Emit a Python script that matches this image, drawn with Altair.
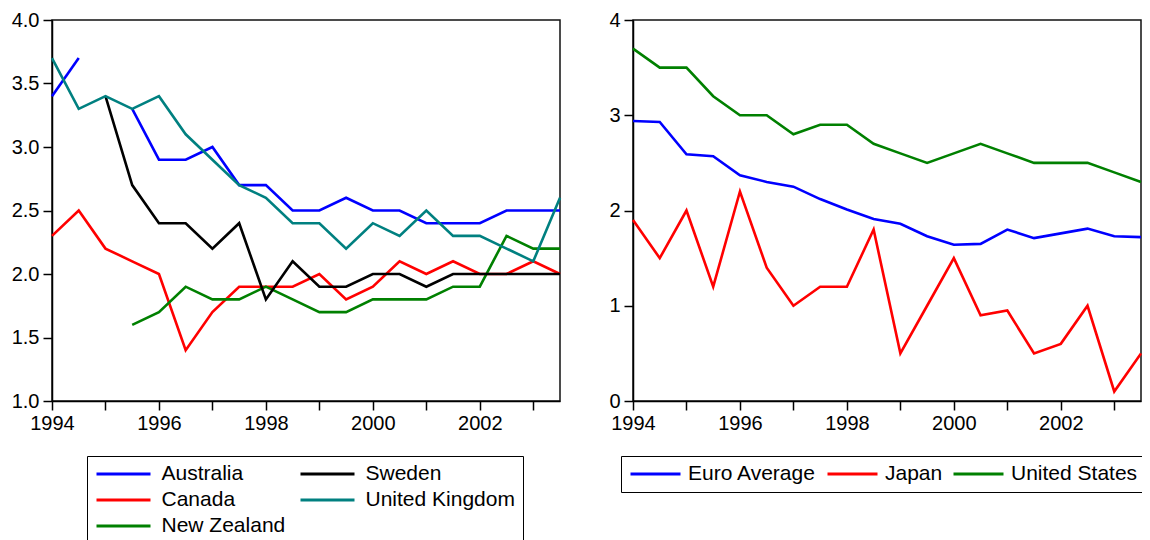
import altair as alt
import pandas as pd

# Half-yearly observation dates
periods = [1994.0, 1994.5, 1995.0, 1995.5, 1996.0, 1996.5, 1997.0, 1997.5, 1998.0, 1998.5,
           1999.0, 1999.5, 2000.0, 2000.5, 2001.0, 2001.5, 2002.0, 2002.5, 2003.0, 2003.5]

# Left panel series
australia = [3.4, 3.7, None, 3.3, 2.9, 2.9, 3.0, 2.7, 2.7, 2.5,
             2.5, 2.6, 2.5, 2.5, 2.4, 2.4, 2.4, 2.5, 2.5, 2.5]
canada = [2.3, 2.5, 2.2, 2.1, 2.0, 1.4, 1.7, 1.9, 1.9, 1.9,
          2.0, 1.8, 1.9, 2.1, 2.0, 2.1, 2.0, 2.0, 2.1, 2.0]
new_zealand = [None, None, None, 1.6, 1.7, 1.9, 1.8, 1.8, 1.9, 1.8,
               1.7, 1.7, 1.8, 1.8, 1.8, 1.9, 1.9, 2.3, 2.2, 2.2]
sweden = [None, None, 3.4, 2.7, 2.4, 2.4, 2.2, 2.4, 1.8, 2.1,
          1.9, 1.9, 2.0, 2.0, 1.9, 2.0, 2.0, 2.0, 2.0, 2.0]
united_kingdom = [3.7, 3.3, 3.4, 3.3, 3.4, 3.1, 2.9, 2.7, 2.6, 2.4,
                  2.4, 2.2, 2.4, 2.3, 2.5, 2.3, 2.3, 2.2, 2.1, 2.6]

# Right panel series
euro_average = [2.94, 2.93, 2.59, 2.57, 2.37, 2.30, 2.25, 2.12, 2.01, 1.91,
                1.86, 1.73, 1.64, 1.65, 1.80, 1.71, 1.76, 1.81, 1.73, 1.72]
japan = [1.9, 1.5, 2.0, 1.2, 2.2, 1.4, 1.0, 1.2, 1.2, 1.8,
         0.5, 1.0, 1.5, 0.9, 0.95, 0.5, 0.6, 1.0, 0.1, 0.5]
united_states = [3.7, 3.5, 3.5, 3.2, 3.0, 3.0, 2.8, 2.9, 2.9, 2.7,
                 2.6, 2.5, 2.6, 2.7, 2.6, 2.5, 2.5, 2.5, 2.4, 2.3]

left_names = ["Australia", "Canada", "New Zealand", "Sweden", "United Kingdom"]
left_series = [australia, canada, new_zealand, sweden, united_kingdom]
left_colors = ["#0000FF", "#FF0000", "#008000", "#000000", "#008080"]

right_names = ["Euro Average", "Japan", "United States"]
right_series = [euro_average, japan, united_states]
right_colors = ["#0000FF", "#FF0000", "#008000"]

left_yticks = [1.0, 1.5, 2.0, 2.5, 3.0, 3.5, 4.0]
right_yticks = [0, 1, 2, 3, 4]

FONT = "Liberation Sans"


def to_long(names, series):
    rows = []
    for name, vals in zip(names, series):
        seg = 0
        gap = True
        for x, v in zip(periods, vals):
            if v is None:
                gap = True
                continue
            if gap:
                seg += 1
                gap = False
            rows.append({"period": x, "value": v, "series": name, "seg": f"{name}-{seg}"})
    return pd.DataFrame(rows)


def panel(names, series, colors, ydomain, yticks, yfmt, legend):
    df = to_long(names, series)
    x_axis = alt.Axis(
        values=periods, title=None, grid=False, format="d",
        labelExpr="datum.value % 2 === 0 ? datum.label : ''",
        labelOverlap=False, labelFlush=False, labelPadding=3,
        tickSize={"condition": {"test": "datum.value % 1 === 0", "value": 9}, "value": 4.5},
    )
    y_axis = alt.Axis(values=yticks, title=None, grid=False, format=yfmt,
                      tickSize=9, labelPadding=4)
    return alt.Chart(df).mark_line(strokeWidth=2.6).encode(
        x=alt.X("period:Q", scale=alt.Scale(domain=[1994, 2003.5], nice=False, zero=False), axis=x_axis),
        y=alt.Y("value:Q", scale=alt.Scale(domain=ydomain, nice=False, zero=False), axis=y_axis),
        color=alt.Color("series:N", scale=alt.Scale(domain=names, range=colors), legend=legend),
        detail="seg:N",
    ).properties(width=508, height=381)


common_legend = dict(
    orient="none", title=None, symbolType="stroke", symbolStrokeWidth=3,
    clipHeight=20, labelFontSize=21, labelFont=FONT, labelColor="black",
    rowPadding=5, strokeColor="black", padding=8, labelLimit=0,
)

left = panel(left_names, left_series, left_colors, [1, 4], left_yticks, ".1f",
             alt.Legend(legendX=35, legendY=436, columns=2, columnPadding=13,
                        symbolSize=2916, labelOffset=9.5, **common_legend))
right = panel(right_names, right_series, right_colors, [0, 4], right_yticks, "d",
              alt.Legend(legendX=-12, legendY=436, columns=3, columnPadding=9,
                         symbolSize=2500, labelOffset=6, **common_legend))

chart = alt.hconcat(left, right, spacing=42).resolve_scale(color="independent").properties(
    autosize=alt.AutoSizeParams(type="none"),
    padding={"left": 44, "top": 12, "right": 1090, "bottom": 510},
    background="white",
).configure_view(
    stroke="#111111", strokeWidth=1.5
).configure_axis(
    labelFont=FONT, labelFontSize=20, labelColor="black",
    domainColor="black", domainWidth=1.5, tickColor="black", tickWidth=1.5,
)

chart.save("out.html", embed_options={"renderer": "svg", "actions": False})
